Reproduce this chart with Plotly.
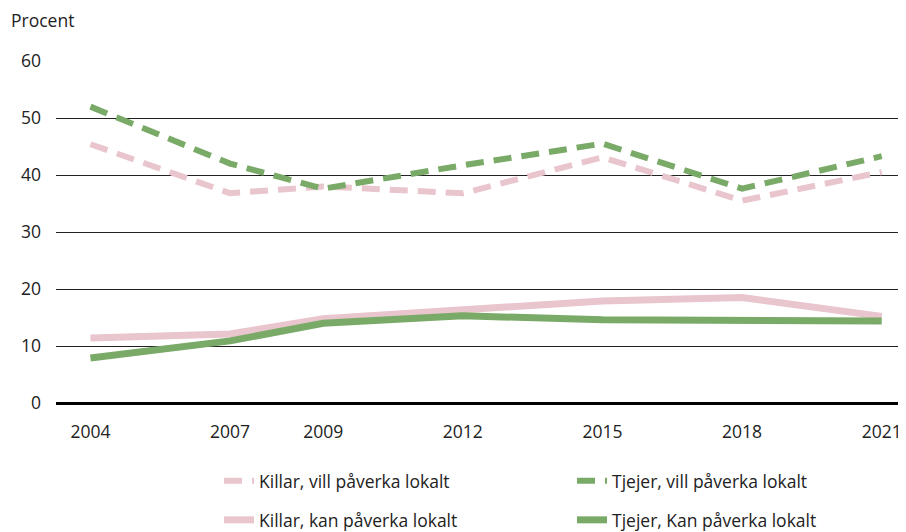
import plotly.graph_objects as go

years = [2004, 2007, 2009, 2012, 2015, 2018, 2021]

killar_vill = [45.4, 36.8, 38.0, 36.8, 43.1, 35.5, 40.5]
tjejer_vill = [52.0, 42.0, 37.6, 41.7, 45.5, 37.6, 43.3]
killar_kan = [11.4, 12.1, 14.8, 16.3, 17.9, 18.5, 15.2]
tjejer_kan = [7.9, 10.9, 14.0, 15.3, 14.6, 14.4, 14.4]

tick_years = years
y_ticks = [0, 10, 20, 30, 40, 50, 60]

PINK = "rgb(233, 197, 205)"
GREEN = "rgb(122, 170, 104)"
FONT = "Open Sans"
FS = 17.5

fig = go.Figure()

# dashed "vill" series -> first legend row
fig.add_trace(go.Scatter(
    x=years, y=killar_vill, mode="lines", name="Killar, vill påverka lokalt",
    line=dict(color=PINK, width=6, dash="18px,10px"), legend="legend",
))
fig.add_trace(go.Scatter(
    x=years, y=tjejer_vill, mode="lines", name="Tjejer, vill påverka lokalt",
    line=dict(color=GREEN, width=6, dash="18px,10px"), legend="legend",
))

# solid "kan" series -> second legend row
fig.add_trace(go.Scatter(
    x=years, y=killar_kan, mode="lines", name="Killar, kan påverka lokalt",
    line=dict(color=PINK, width=7), legend="legend2",
))
fig.add_trace(go.Scatter(
    x=years, y=tjejer_kan, mode="lines", name="Tjejer, Kan påverka lokalt",
    line=dict(color=GREEN, width=7), legend="legend2",
))

legend_common = dict(
    orientation="h",
    xanchor="left",
    yanchor="middle",
    x=0.192,
    entrywidth=308,
    font=dict(family=FONT, size=FS, color="#222"),
    bgcolor="rgba(0,0,0,0)",
    traceorder="normal",
)

# page body adds an 8px margin, so the figure is 8px smaller than the window
fig.update_layout(
    width=898,
    height=524,
    margin=dict(l=48, r=1, t=53, b=129, autoexpand=False),
    paper_bgcolor="white",
    plot_bgcolor="white",
    font=dict(family=FONT, size=FS, color="#222"),
    showlegend=True,
    legend=dict(**legend_common, y=-0.228),
    legend2=dict(**legend_common, y=-0.342),
    xaxis=dict(
        range=[2003.26, 2021.5],
        tickvals=tick_years,
        ticktext=[str(y) for y in tick_years],
        showgrid=False,
        zeroline=False,
        showline=False,
        ticks="",
        ticklabelstandoff=16,
        tickfont=dict(family=FONT, size=FS, color="#222"),
    ),
    yaxis=dict(
        range=[0, 60],
        tickvals=y_ticks,
        showgrid=True,
        gridcolor="#222",
        gridwidth=1,
        zeroline=True,
        zerolinecolor="#000",
        zerolinewidth=2.5,
        showline=False,
        ticks="",
        ticklabelstandoff=14,
        tickfont=dict(family=FONT, size=FS, color="#222"),
    ),
    annotations=[
        dict(
            text="Procent",
            xref="paper", yref="paper",
            x=0, y=1,
            xanchor="left", yanchor="middle",
            xshift=-47, yshift=41,
            showarrow=False,
            font=dict(family=FONT, size=FS, color="#222"),
        )
    ],
)

fig.write_html("out.html")
